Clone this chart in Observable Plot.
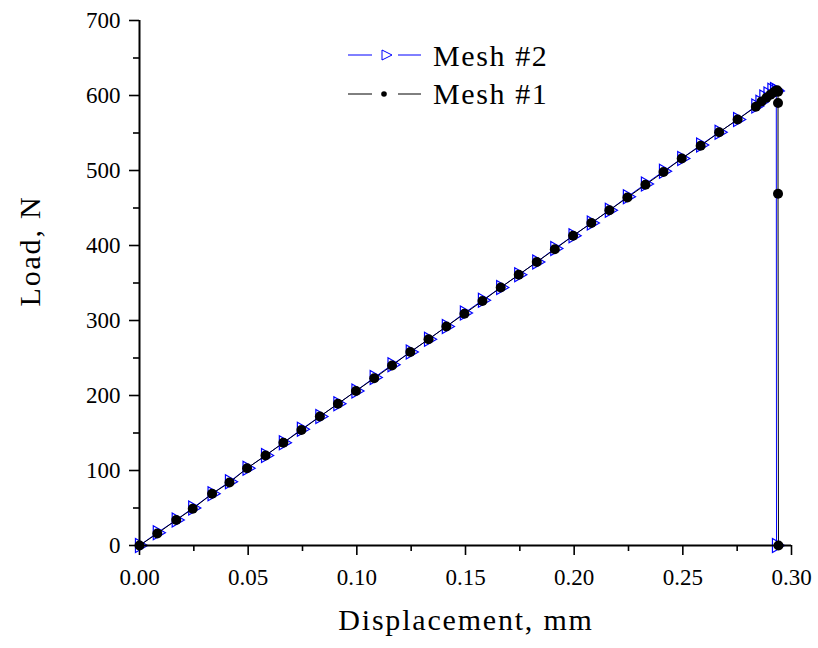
<!DOCTYPE html>
<html><head><meta charset="utf-8">
<script src="https://cdn.jsdelivr.net/npm/d3@7"></script>
<script src="https://cdn.jsdelivr.net/npm/@observablehq/plot@0.6"></script>
<style>body{margin:0;background:#fff} #chart{width:818px;height:648px}</style>
</head><body><div id="chart"></div>
<script>
// Mesh #1 (black dots)
const mesh1X = [0, 0.0082, 0.0169, 0.0245, 0.0334, 0.0414, 0.0495, 0.0580, 0.0662, 0.0745, 0.0830, 0.0913, 0.0996, 0.1080, 0.1162, 0.1246, 0.1330, 0.1412, 0.1495, 0.1578, 0.1662, 0.1745, 0.1828, 0.1911, 0.1995, 0.2079, 0.2162, 0.2245, 0.2328, 0.2411, 0.2495, 0.2582, 0.2667, 0.2752, 0.2836, 0.2862, 0.2885, 0.2903, 0.2917, 0.2927, 0.2934, 0.2938, 0.2938, 0.2938, 0.2940];
const mesh1Load = [0, 16, 34, 49, 69, 84, 103, 120, 137, 154, 172, 189, 206, 223, 240, 258, 275, 292, 309, 326, 344, 361, 378, 395, 413, 430, 447, 464, 481, 498, 516, 533, 551, 568, 585, 592, 597, 601, 604, 606, 607, 605, 590, 469, 0];
// Mesh #2 (blue triangles)
const mesh2X = [0, 0.0082, 0.0169, 0.0245, 0.0334, 0.0414, 0.0495, 0.0580, 0.0662, 0.0745, 0.0830, 0.0913, 0.0996, 0.1080, 0.1162, 0.1246, 0.1330, 0.1412, 0.1495, 0.1578, 0.1662, 0.1745, 0.1828, 0.1911, 0.1995, 0.2079, 0.2162, 0.2245, 0.2328, 0.2411, 0.2495, 0.2582, 0.2667, 0.2752, 0.2836, 0.2855, 0.2873, 0.2892, 0.2910, 0.2922, 0.2930, 0.2931];
const mesh2Load = [0, 17, 34, 50, 69, 85, 103, 120, 137, 155, 172, 189, 206, 224, 241, 258, 275, 292, 310, 327, 344, 361, 378, 396, 413, 430, 447, 465, 482, 499, 516, 534, 551, 568, 586, 591, 598, 602, 607, 608, 606, 0];
const seriesNames = ["Mesh #2", "Mesh #1"];
const xTicks = [0, 0.05, 0.10, 0.15, 0.20, 0.25, 0.30];
const xMinorTicks = [0.025, 0.075, 0.125, 0.175, 0.225, 0.275];
const yTicks = [0, 100, 200, 300, 400, 500, 600, 700];
const yMinorTicks = [50, 150, 250, 350, 450, 550, 650];
const xLabel = "Displacement, mm";
const yLabel = "Load, N";

const mesh1 = mesh1X.map((x, i) => ({x, y: mesh1Load[i]}));
const mesh2 = mesh2X.map((x, i) => ({x, y: mesh2Load[i]}));

const triRight = {
  draw(ctx, size) {
    const y = -Math.sqrt(size / (Math.sqrt(3) * 3));
    ctx.moveTo(-y * 2, 0);
    ctx.lineTo(y, -Math.sqrt(3) * y);
    ctx.lineTo(y, Math.sqrt(3) * y);
    ctx.closePath();
  }
};

const font = "'Liberation Serif', 'Times New Roman', serif";
const chart = Plot.plot({
  width: 818, height: 648,
  marginLeft: 139, marginRight: 27, marginTop: 20, marginBottom: 103,
  style: {fontFamily: font, fontSize: "23px", color: "black", background: "white", overflow: "visible"},
  x: {domain: [0, 0.3], label: null},
  y: {domain: [0, 700], label: null},
  marks: [
    Plot.line(mesh2, {x: "x", y: "y", stroke: "#0000ff", strokeWidth: 1}),
    Plot.dot(mesh2, {x: "x", y: "y", symbol: triRight, r: 5.2, stroke: "#0000ff", strokeWidth: 1.2, fill: "none"}),
    Plot.line(mesh1, {x: "x", y: "y", stroke: "black", strokeWidth: 1}),
    Plot.dot(mesh1, {x: "x", y: "y", r: 5, fill: "black", stroke: "none"}),
    Plot.axisX({ticks: xTicks, tickFormat: d3.format(".2f"), tickSize: 10, tickPadding: 13, strokeWidth: 1.6, fontSize: 23, label: null}),
    Plot.axisX({ticks: xMinorTicks, tickFormat: () => "", tickSize: 6, strokeWidth: 1.6, label: null}),
    Plot.axisY({ticks: yTicks, tickSize: 10, tickPadding: 9, strokeWidth: 1.6, fontSize: 23, label: null}),
    Plot.axisY({ticks: yMinorTicks, tickFormat: () => "", tickSize: 6, strokeWidth: 1.6, label: null}),
    Plot.ruleY([0], {strokeWidth: 2}),
    Plot.ruleX([0], {strokeWidth: 2})
  ]
});
document.getElementById("chart").appendChild(chart);

const svg = d3.select(chart);
// Axis titles
svg.append("text").attr("x", 466).attr("y", 630).attr("text-anchor", "middle")
  .attr("font-family", font).attr("font-size", 30).attr("fill", "black")
  .style("letter-spacing", "1.8px").text(xLabel);
svg.append("text").attr("transform", "translate(40,251) rotate(-90)").attr("text-anchor", "middle")
  .attr("font-family", font).attr("font-size", 30).attr("fill", "black")
  .style("letter-spacing", "1.8px").text(yLabel);

// Legend
const lg = svg.append("g").attr("font-family", font).attr("font-size", 30).attr("fill", "black").attr("text-anchor", "start");
const rows = [
  {name: seriesNames[0], color: "#0000ff", cy: 55, base: 66, kind: "tri"},
  {name: seriesNames[1], color: "black", cy: 94, base: 104, kind: "dot"}
];
rows.forEach(r => {
  lg.append("line").attr("x1", 348).attr("x2", 372).attr("y1", r.cy).attr("y2", r.cy).attr("stroke", r.color).attr("stroke-width", 1);
  lg.append("line").attr("x1", 398).attr("x2", 421).attr("y1", r.cy).attr("y2", r.cy).attr("stroke", r.color).attr("stroke-width", 1);
  if (r.kind === "tri") {
    lg.append("path").attr("d", `M382,${r.cy-5}L392,${r.cy}L382,${r.cy+5}Z`).attr("fill", "none").attr("stroke", r.color).attr("stroke-width", 1);
  } else {
    lg.append("circle").attr("cx", 384).attr("cy", r.cy).attr("r", 2.8).attr("fill", r.color);
  }
  lg.append("text").attr("x", 433).attr("y", r.base).attr("text-anchor", "start").style("letter-spacing", "1.6px").text(r.name);
});
</script>
</body></html>
